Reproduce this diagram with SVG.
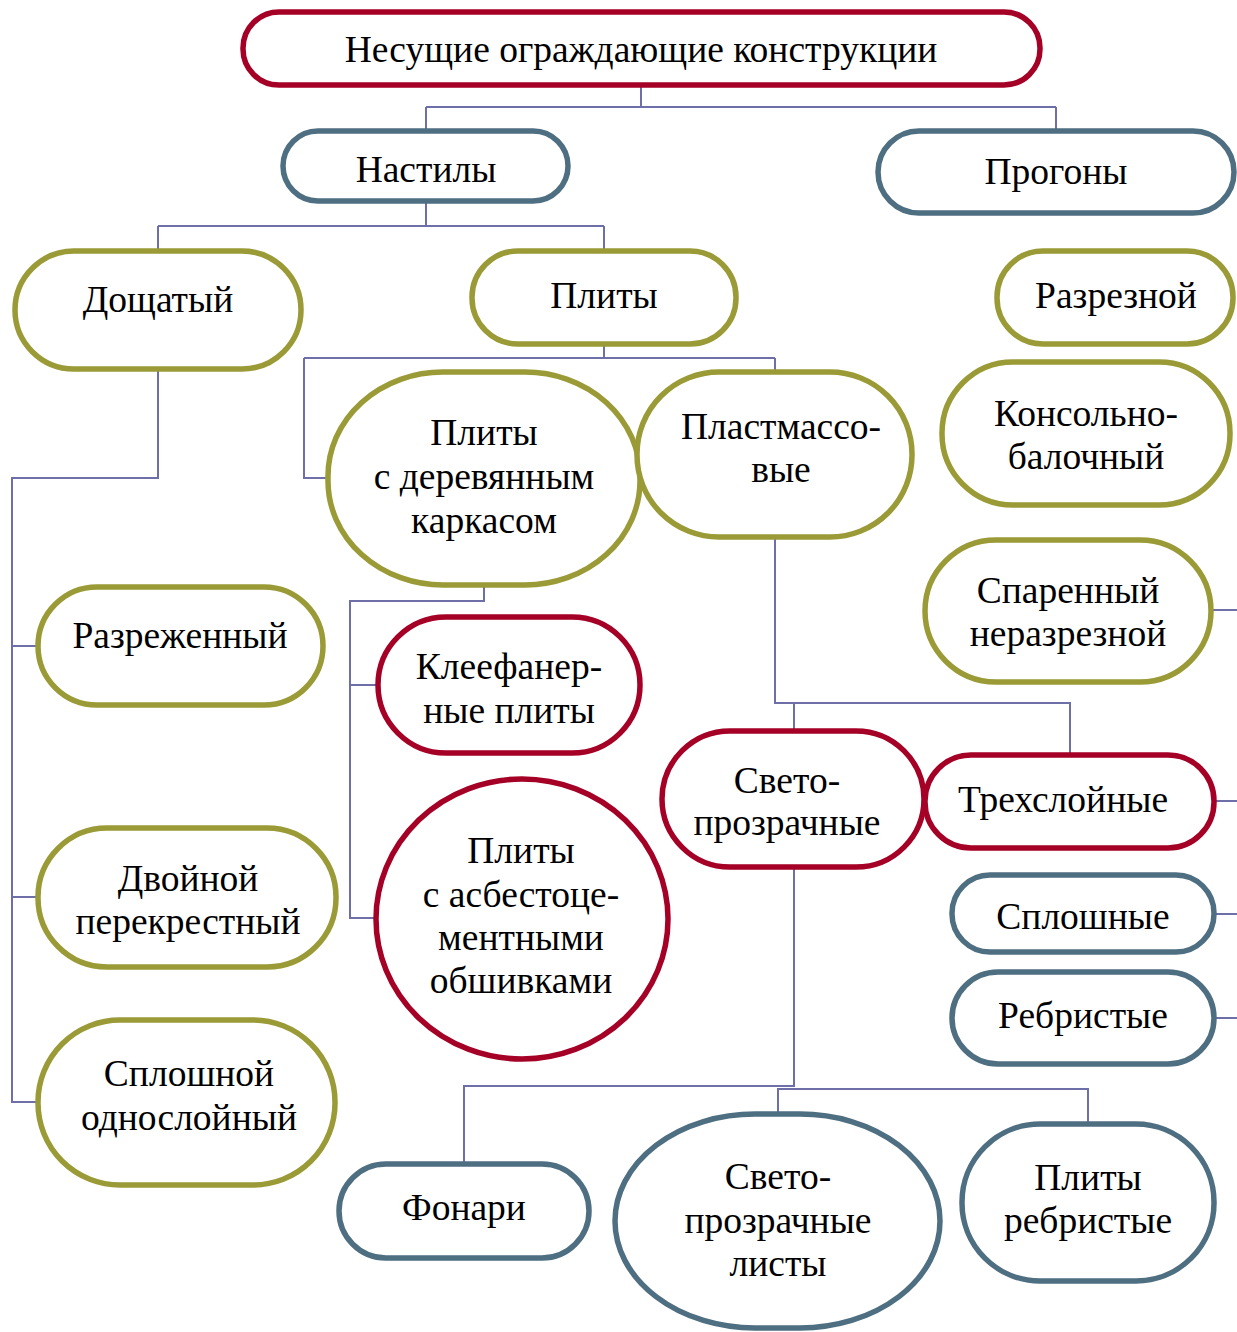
<svg xmlns="http://www.w3.org/2000/svg" width="1237" height="1332" viewBox="0 0 1237 1332">
<style>
.n rect{fill:#fff;stroke-width:5.5}
.r rect{stroke:#A50026}
.o rect{stroke:#9A9A36}
.b rect{stroke:#4E6E82}
text{font-family:"Liberation Serif","Times New Roman",serif;font-size:37.5px;fill:#000;text-anchor:middle}
#conn path{fill:none;stroke:#6E6EA8;stroke-width:2}
</style>
<rect width="1237" height="1332" fill="#fff"/>
<g id="conn">
<path d="M641,87V107M426,107H1056M426,107V129M1056,107V129"/>
<path d="M426,203V226M158,226H604M158,226V249M604,226V249"/>
<path d="M604,346V358M304,358H775M304,358V478H326M775,358V370"/>
<path d="M158,371V478H12V1102H36M12,646H36M12,897H36"/>
<path d="M484,587V601H350V918H374M350,685H376"/>
<path d="M775,539V703H1070V753M794,703V729"/>
<path d="M794,869V1086H464V1162M794,1089H1088V1122M794,1089H778V1112"/>
<path d="M1213,610H1237M1216,801H1237M1216,914H1237M1216,1018H1237"/>
</g>
<g id="n1" class="n r"><rect x="243" y="12" width="797" height="73" rx="36"/><text x="641" y="62">Несущие ограждающие конструкции</text></g>
<g id="n2" class="n b"><rect x="283" y="131" width="285" height="70" rx="35"/><text x="426" y="182">Настилы</text></g>
<g id="n3" class="n b"><rect x="878" y="131" width="356" height="82" rx="41"/><text x="1056" y="184">Прогоны</text></g>
<g id="n4" class="n o"><rect x="15" y="251" width="286" height="118" rx="59"/><text x="158" y="312">Дощатый</text></g>
<g id="n5" class="n o"><rect x="472" y="251" width="264" height="93" rx="46"/><text x="604" y="308">Плиты</text></g>
<g id="n6" class="n o"><rect x="997" y="251" width="236" height="93" rx="46"/><text x="1116" y="308">Разрезной</text></g>
<g id="n7" class="n o"><rect x="328" y="372" width="312" height="213" rx="115" ry="104"/><text x="484" y="445">Плиты</text><text x="484" y="489">с деревянным</text><text x="484" y="533">каркасом</text></g>
<g id="n8" class="n o"><rect x="637" y="372" width="275" height="165" rx="82"/><text x="781" y="439">Пластмассо-</text><text x="781" y="482">вые</text></g>
<g id="n9" class="n o"><rect x="942" y="362" width="288" height="143" rx="71"/><text x="1086" y="426">Консольно-</text><text x="1086" y="469">балочный</text></g>
<g id="n10" class="n o"><rect x="925" y="540" width="286" height="142" rx="71"/><text x="1068" y="603">Спаренный</text><text x="1068" y="646">неразрезной</text></g>
<g id="n11" class="n o"><rect x="38" y="587" width="285" height="118" rx="59"/><text x="180" y="648">Разреженный</text></g>
<g id="n12" class="n r"><rect x="378" y="617" width="262" height="136" rx="68"/><text x="509" y="679">Клеефанер-</text><text x="509" y="723">ные плиты</text></g>
<g id="n13" class="n r"><rect x="662" y="731" width="262" height="136" rx="68"/><text x="787" y="793">Свето-</text><text x="787" y="835">прозрачные</text></g>
<g id="n14" class="n r"><rect x="925" y="755" width="289" height="93" rx="46"/><text x="1063" y="812">Трехслойные</text></g>
<g id="n15" class="n o"><rect x="38" y="828" width="298" height="139" rx="69"/><text x="188" y="891">Двойной</text><text x="188" y="934">перекрестный</text></g>
<g id="n16" class="n r"><rect x="376" y="779" width="292" height="280" rx="146" ry="140"/><text x="521" y="863">Плиты</text><text x="521" y="907">с асбестоце-</text><text x="521" y="950">ментными</text><text x="521" y="993">обшивками</text></g>
<g id="n17" class="n b"><rect x="952" y="875" width="262" height="77" rx="38"/><text x="1083" y="929">Сплошные</text></g>
<g id="n18" class="n b"><rect x="952" y="972" width="262" height="92" rx="46"/><text x="1083" y="1028">Ребристые</text></g>
<g id="n19" class="n o"><rect x="38" y="1020" width="297" height="165" rx="82"/><text x="189" y="1086">Сплошной</text><text x="189" y="1130">однослойный</text></g>
<g id="n20" class="n b"><rect x="339" y="1164" width="250" height="94" rx="47"/><text x="464" y="1220">Фонари</text></g>
<g id="n21" class="n b"><rect x="615" y="1114" width="325" height="214" rx="140" ry="107"/><text x="778" y="1189">Свето-</text><text x="778" y="1233">прозрачные</text><text x="778" y="1276">листы</text></g>
<g id="n22" class="n b"><rect x="962" y="1124" width="252" height="157" rx="78"/><text x="1088" y="1190">Плиты</text><text x="1088" y="1233">ребристые</text></g>
</svg>
